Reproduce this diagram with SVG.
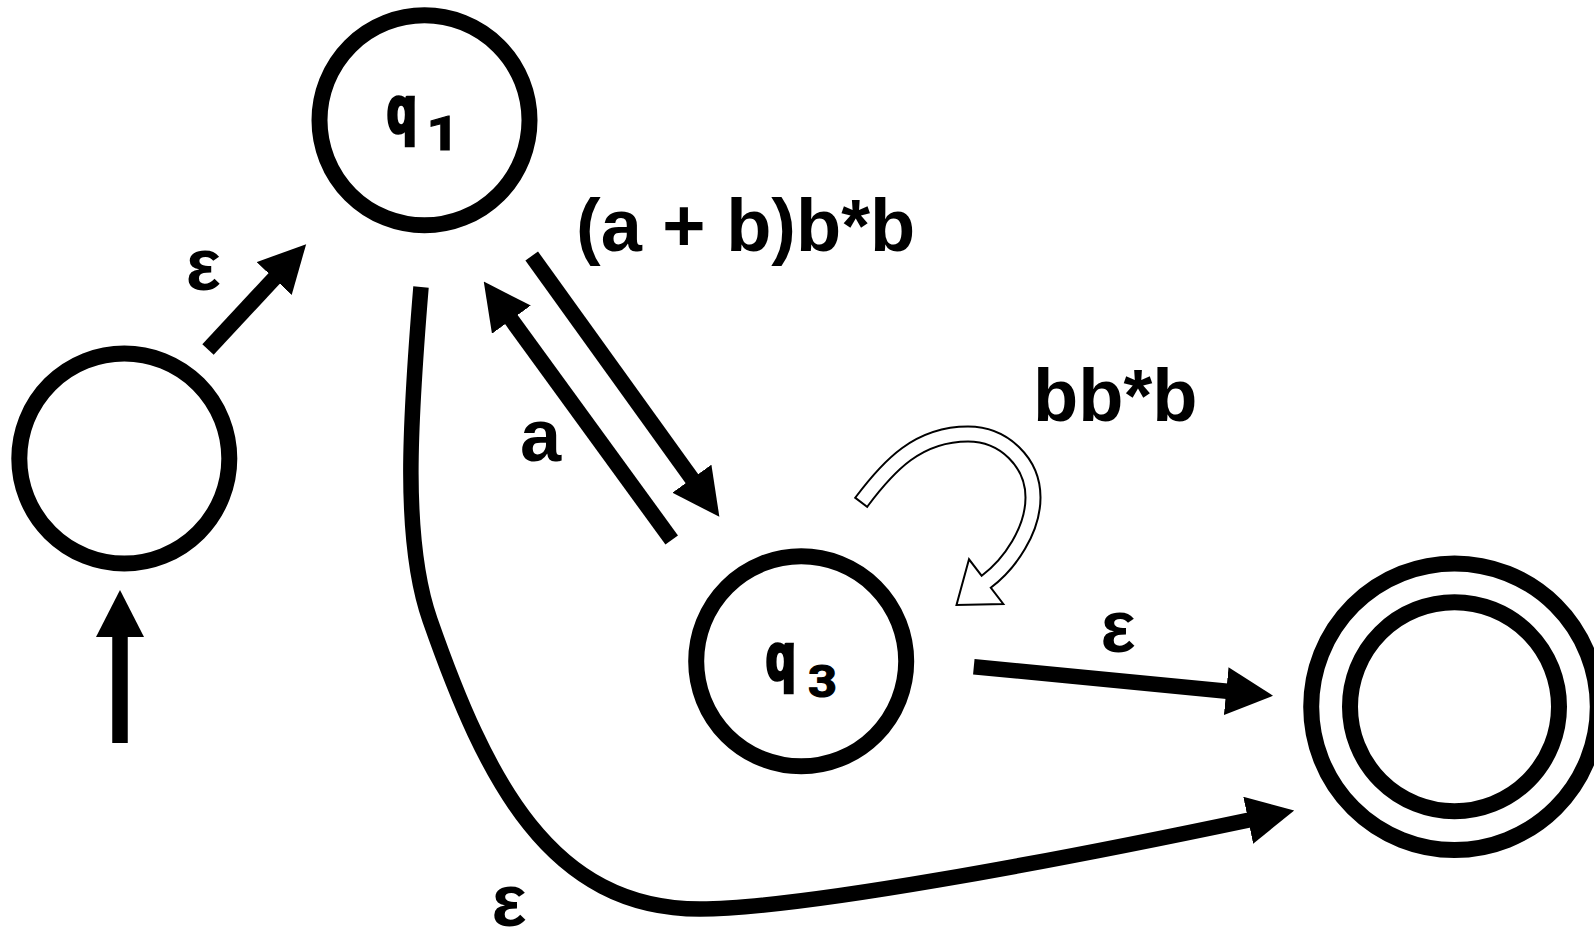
<svg xmlns="http://www.w3.org/2000/svg" width="1594" height="931" viewBox="0 0 1594 931">
<style>
.st{fill:#fff;stroke:#000;stroke-width:16}
.e{fill:none;stroke:#000;stroke-width:15.5;marker-end:url(#ah)}
.lbl{font-family:"Liberation Sans",Arial,sans-serif;font-weight:bold;font-size:74px;fill:#000}
.nm{font-family:"Liberation Sans",Arial,sans-serif;font-weight:bold;fill:#000;stroke:#000}
.sub{font-family:Roboto,"Liberation Sans",sans-serif;font-weight:bold;fill:#000;stroke:#000}
</style>
<defs>
<marker id="ah" markerUnits="userSpaceOnUse" viewBox="0 0 47 48" markerWidth="47" markerHeight="48" refX="1" refY="24" orient="auto"><path d="M0,0 L47,24 L0,48 z" fill="#000"/></marker>
</defs>
<rect width="1594" height="931" fill="#fff"/>
<g id="connectors">
<path class="e" d="M120,743 L120,636"/>
<path class="e" d="M208,349.5 L274.8,277.8"/>
<path class="e" d="M531.7,256 L692.5,479.5"/>
<path class="e" d="M671.7,540 L510.8,318.8"/>
<path class="e" d="M973.8,666.7 L1227.2,691.3"/>
<path class="e" d="M421,287 C410,420 402,540 430,620 C486,780 550,909 700,909 C800,909 1053.4,861.2 1249.2,820"/>
<g id="loop">
<path d="M860.6,503.1 L861.8,501.5 C888.8,465.5 918,434 968,434 C1003.9,434 1033,462.4 1033,497.5 C1033,530 1010.2,563.7 986.2,581.7" fill="none" stroke="#000" stroke-width="17"/>
<polygon points="969,559.3 956.5,605 1003.3,604" fill="#fff" stroke="#000" stroke-width="2"/>
<path d="M861.8,501.5 C888.8,465.5 918,434 968,434 C1003.9,434 1033,462.4 1033,497.5 C1033,530 1010.2,563.7 986.2,581.7 L983.8,583.5" fill="none" stroke="#fff" stroke-width="13"/>
</g>
</g>
<g id="q0"><circle class="st" cx="124.3" cy="458.5" r="105"/></g>
<g id="q1"><circle class="st" cx="424.5" cy="120.3" r="105"/>
<text class="nm" font-size="65" stroke-width="4.5" transform="translate(387,132) scale(0.74,1)">q</text>
<text class="sub" font-size="48" stroke-width="1.2" text-anchor="middle" transform="translate(443,149.5) scale(1.2,1)">1</text></g>
<g id="q3"><circle class="st" cx="801.2" cy="661.3" r="105"/>
<text class="nm" font-size="65" stroke-width="4.5" transform="translate(766,679) scale(0.74,1)">q</text>
<text class="sub" font-size="44" stroke-width="1.2" text-anchor="middle" transform="translate(822.5,697) scale(1.15,1)">3</text></g>
<g id="qf"><circle class="st" cx="1454.5" cy="706.7" r="143.3"/><circle class="st" cx="1454.5" cy="706.7" r="104.5"/></g>
<g id="labels">
<text class="lbl" x="203.4" y="290" text-anchor="middle">ε</text>
<text class="lbl" x="1118" y="652" text-anchor="middle">ε</text>
<text class="lbl" x="509" y="926" text-anchor="middle">ε</text>
<text class="lbl" x="576" y="251">(a + b)b*b</text>
<text class="lbl" x="520" y="461">a</text>
<text class="lbl" x="1033" y="421">bb*b</text>
</g>
</svg>
